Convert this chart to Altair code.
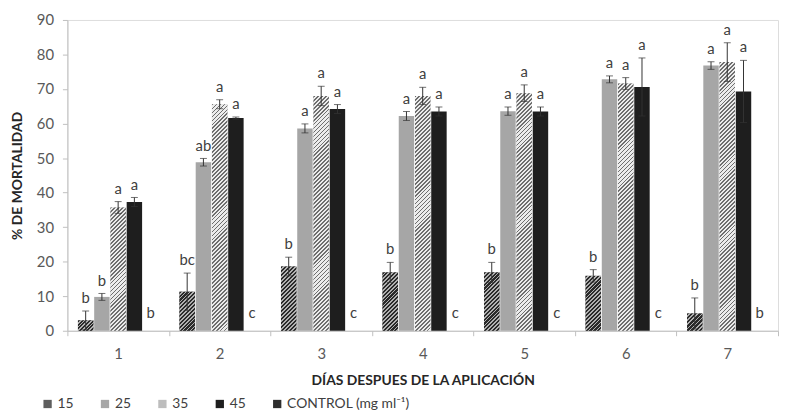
import altair as alt

days = ["1", "2", "3", "4", "5", "6", "7"]
series = ["15", "25", "35", "45", "CONTROL (mg ml⁻¹)"]

v15 = [3.0, 11.3, 18.6, 16.9, 16.9, 15.9, 5.0]
e15 = [2.7, 5.4, 2.7, 2.9, 2.9, 1.8, 4.5]
l15 = ["b", "bc", "b", "b", "b", "b", "b"]

v25 = [9.8, 48.8, 58.6, 62.2, 63.6, 72.8, 76.8]
e25 = [1.0, 1.1, 1.3, 1.3, 1.2, 1.0, 1.1]
l25 = ["b", "ab", "a", "a", "a", "a", "a"]

v35 = [35.7, 65.6, 68.0, 68.0, 68.8, 71.6, 77.8]
e35 = [1.7, 1.3, 2.8, 2.5, 2.4, 1.7, 5.6]
l35 = ["a", "a", "a", "a", "a", "a", "a"]

v45 = [37.3, 61.6, 64.2, 63.5, 63.5, 70.6, 69.3]
e45 = [1.3, 0.3, 1.3, 1.3, 1.3, 8.4, 9.0]
l45 = ["a", "a", "a", "a", "a", "a", "a"]

vctl = [0, 0, 0, 0, 0, 0, 0]
ectl = [0, 0, 0, 0, 0, 0, 0]
lctl = ["b", "c", "c", "c", "c", "c", "b"]

colors = ["#5e5e5e", "#a6a6a6", "#bdbdbd", "#1e1e1e", "#2e2e2e"]

# layout
W_PLOT, H_PLOT = 718, 314
Y_MAX = 90
PI, PO = 0.05, 0.65
step_x = W_PLOT / len(days)
slot = step_x / (len(series) - PI + 2 * PO)
BAR_W = slot * (1 - PI)

HATCH = {
    "15": ("#2a2a2a", "#b0b0b0", 0.55),
    "35": ("#6e6e6e", "#ececec", 0.45),
}


def hatch(value, dark, light, frac, period=4.0):
    W = BAR_W
    H = max(value * H_PLOT / Y_MAX, 0.5)
    L = W + H
    n = max(1, round(L / period))
    stops = []
    for k in range(n):
        a, b, c = k / n, (k + frac) / n, (k + 1) / n
        stops += [
            {"offset": a, "color": dark},
            {"offset": b, "color": dark},
            {"offset": b, "color": light},
            {"offset": c, "color": light},
        ]
    s = L / (W * W + H * H)
    return {"gradient": "linear", "x1": 0, "y1": 0, "x2": W * s, "y2": H * s, "stops": stops}


rows = []
for name, vals, errs, labs in [
    (series[0], v15, e15, l15),
    (series[1], v25, e25, l25),
    (series[2], v35, e35, l35),
    (series[3], v45, e45, l45),
    (series[4], vctl, ectl, lctl),
]:
    for d, v, e, lab in zip(days, vals, errs, labs):
        r = {"day": d, "series": name, "value": v, "lo": v - e, "hi": v + e,
             "label": lab, "ctl": name == series[4]}
        if name in HATCH:
            dk, lt, fr = HATCH[name]
            r["grad"] = hatch(v, dk, lt, fr)
        rows.append(r)

data = alt.Data(values=rows)

x = alt.X("day:N", sort=days, scale=alt.Scale(paddingInner=0, paddingOuter=0),
          axis=alt.Axis(title="DÍAS DESPUES DE LA APLICACIÓN", labelAngle=0, tickBand="extent",
                        domainColor="#bfbfbf", tickColor="#bfbfbf", tickSize=5,
                        labelFont="Lato", labelFontSize=15, labelColor="#595959", labelPadding=11,
                        titleFont="Lato", titleFontSize=14, titleFontWeight="bold",
                        titleColor="#262626", titlePadding=12))
xo = alt.XOffset("series:N", sort=series,
                 scale=alt.Scale(domain=series, paddingInner=PI, paddingOuter=PO))

y_scale = alt.Scale(domain=[0, Y_MAX], nice=False)
y_axis = alt.Axis(title="% DE MORTALIDAD", values=list(range(0, 91, 10)), grid=False,
                  domainColor="#bfbfbf", tickColor="#bfbfbf", tickSize=5,
                  labelFont="Lato", labelFontSize=15, labelColor="#595959", labelPadding=9,
                  labelOverlap=False,
                  titleFont="Lato", titleFontSize=14, titleFontWeight="bold",
                  titleColor="#262626", titlePadding=12)


def yenc(field):
    return alt.Y(field + ":Q", scale=y_scale, axis=y_axis)


base = alt.Chart(data)

bars = base.mark_bar().encode(
    x=x, xOffset=xo, y=yenc("value"),
    fill=alt.Fill("series:N", sort=series,
                  scale=alt.Scale(domain=series, range=colors),
                  legend=alt.Legend(title=None, orient="none", direction="horizontal",
                                    legendX=-27, legendY=381, symbolType="square", symbolSize=70,
                                    symbolStrokeWidth=0, labelFont="Lato", labelFontSize=14,
                                    labelColor="#404040", columnPadding=24, labelOffset=3,
                                    padding=0)),
)

hatched = base.transform_filter(
    alt.FieldOneOfPredicate(field="series", oneOf=["15", "35"])
).mark_bar().encode(
    x=x, xOffset=xo, y=yenc("value"),
    fill=alt.Fill("grad:N", scale=None, legend=None),
)

nonctl = base.transform_filter("!datum.ctl")

err = nonctl.mark_rule(color="#333333", strokeWidth=1).encode(
    x=x, xOffset=xo, y=yenc("lo"), y2="hi:Q")
cap_hi = nonctl.mark_tick(color="#333333", size=7, thickness=1, orient="horizontal").encode(
    x=x, xOffset=xo, y=yenc("hi"))
cap_lo = nonctl.mark_tick(color="#333333", size=7, thickness=1, orient="horizontal").encode(
    x=x, xOffset=xo, y=yenc("lo"))

txt = nonctl.mark_text(font="Lato", fontSize=15, dy=-8, baseline="alphabetic",
                       fill="#404040", color="#404040").encode(
    x=x, xOffset=xo, y=yenc("hi"), text="label:N")
txt_ctl = base.transform_filter("datum.ctl").mark_text(
    font="Lato", fontSize=15, dy=-13, baseline="alphabetic",
    fill="#404040", color="#404040").encode(
    x=x, xOffset=xo, y=yenc("hi"), text="label:N")

chart = alt.layer(bars, hatched, err, cap_hi, cap_lo, txt, txt_ctl).properties(
    width=W_PLOT, height=H_PLOT,
    autosize=alt.AutoSizeParams(type="none"),
    padding={"left": 60, "top": 10, "right": 2, "bottom": 80},
).configure_view(stroke=None).configure(background="white").configure_text(
    fill="#404040", color="#404040")

chart.save("out.html", embed_options={"renderer": "svg", "actions": False})
